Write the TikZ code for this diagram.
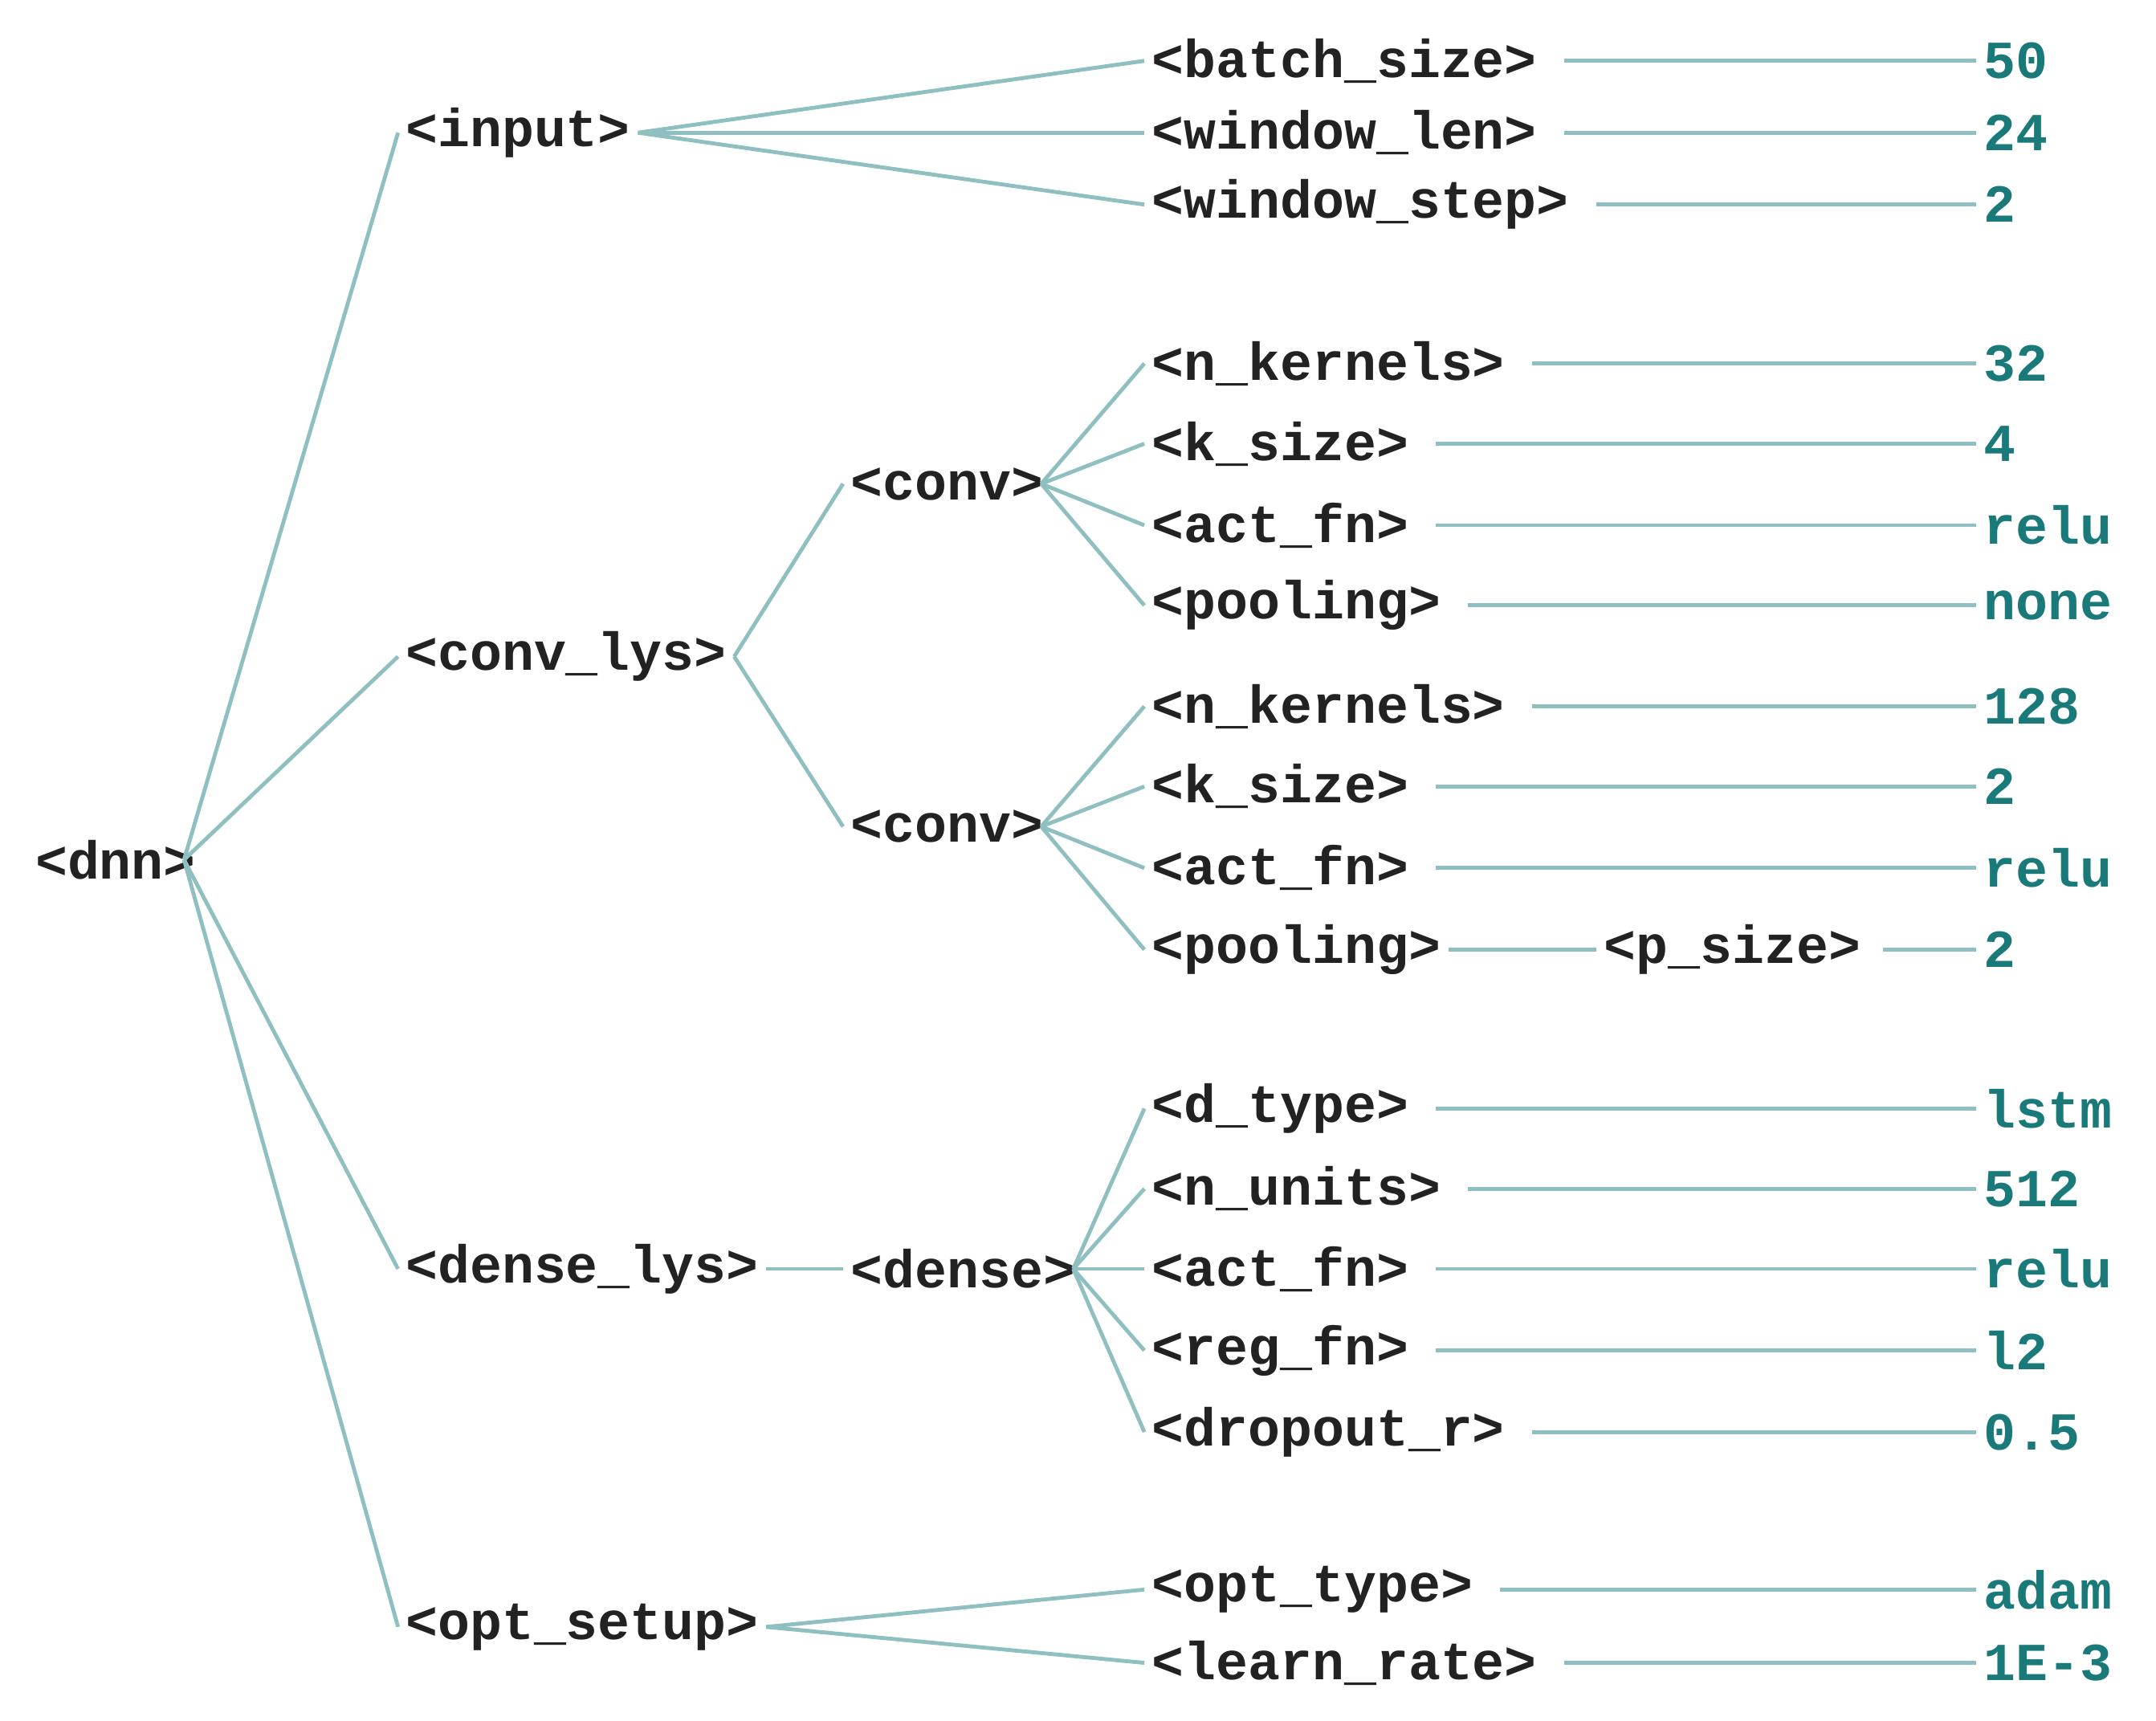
\documentclass[tikz,border=0pt]{standalone}
\usepackage{fontspec}
\setmonofont{Liberation Mono}
\begin{document}
\definecolor{ln}{HTML}{8FBFC0}
\definecolor{tx}{HTML}{222222}
\definecolor{vl}{HTML}{1A7A7A}
\begin{tikzpicture}[x=0.02cm,y=-0.02cm,
 n/.style={anchor=west,inner sep=3pt,font=\fontsize{22}{24}\selectfont\ttfamily\bfseries,text=tx},
 v/.style={n,text=vl},
 e/.style={draw=ln,line width=1.6pt}]
\useasboundingbox (0,0) rectangle (1560,1245);
\node[n] (dnn) at (20,622) {<dnn>};
\node[n] (input) at (288,96) {<input>};
\node[n] (clys) at (288,475) {<conv\_lys>};
\node[n] (dlys) at (288,918) {<dense\_lys>};
\node[n] (opt) at (288,1177) {<opt\_setup>};
\node[n] (c1) at (610,350) {<conv>};
\node[n] (c2) at (610,598) {<conv>};
\node[n] (den) at (610,918) {<dense>};
\foreach \nm/\y/\t/\val in {bs/44/batch\_size/50, wl/96/window\_len/24, ws/148/window\_step/2,
 nk1/263/n\_kernels/32, ks1/321/k\_size/4, af1/380/act\_fn/relu, po1/438/pooling/none,
 nk2/511/n\_kernels/128, ks2/569/k\_size/2, af2/628/act\_fn/relu,
 dt/802/d\_type/lstm, nu/860/n\_units/512, af3/918/act\_fn/relu, rf/977/reg\_fn/l2, dr/1036/dropout\_r/0.5,
 ot/1150/opt\_type/adam, lr/1203/learn\_rate/1E-3}{
 \node[n] (\nm) at (828,\y) {<\t>};
 \node[v] (v\nm) at (1430,\y) {\val};
 \draw[e] ([xshift=8pt]\nm.east) -- (v\nm.west);
}
\node[n] (po2) at (828,687) {<pooling>};
\node[n] (ps) at (1155,687) {<p\_size>};
\node[v] (vps) at (1430,687) {2};
\draw[e] (po2.east) -- (ps.west);
\draw[e] ([xshift=6pt]ps.east) -- (vps.west);
\foreach \c in {input,clys,dlys,opt} \draw[e] ([xshift=-8pt]dnn.east) -- (\c.west);
\foreach \c in {bs,wl,ws} \draw[e] (input.east) -- (\c.west);
\draw[e] (clys.east) -- (c1.west); \draw[e] (clys.east) -- (c2.west);
\foreach \c in {nk1,ks1,af1,po1} \draw[e] ([xshift=-4pt]c1.east) -- (\c.west);
\foreach \c in {nk2,ks2,af2,po2} \draw[e] ([xshift=-4pt]c2.east) -- (\c.west);
\draw[e] (dlys.east) -- (den.west);
\foreach \c in {dt,nu,af3,rf,dr} \draw[e] ([xshift=-4pt]den.east) -- (\c.west);
\foreach \c in {ot,lr} \draw[e] (opt.east) -- (\c.west);
\end{tikzpicture}
\end{document}
